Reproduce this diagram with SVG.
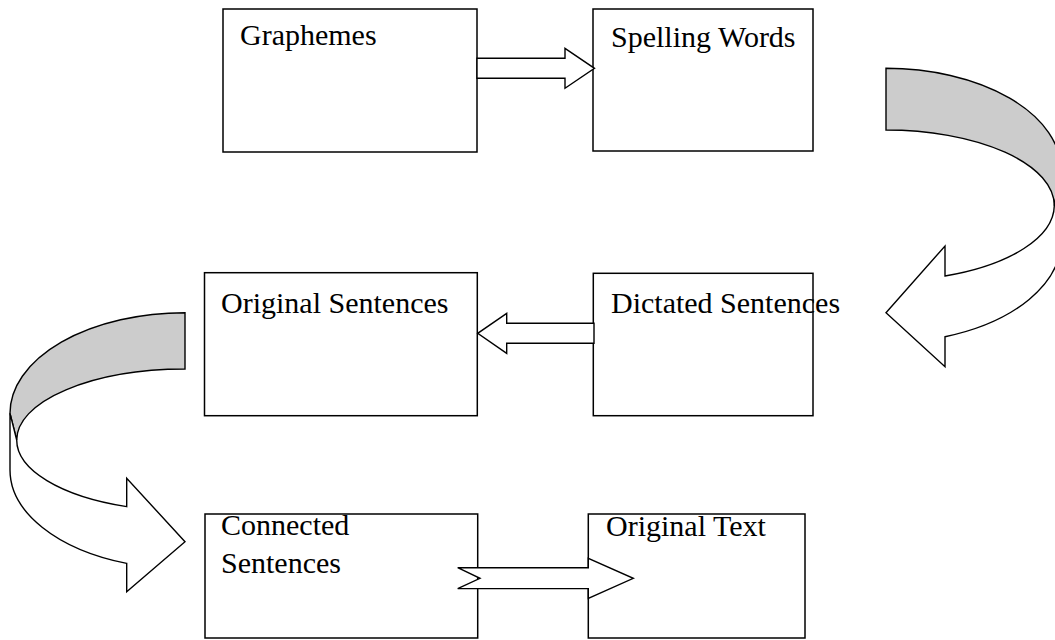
<svg xmlns="http://www.w3.org/2000/svg" width="1055" height="640" viewBox="0 0 1055 640">
<style>
.box{fill:#fff;stroke:#000;stroke-width:1.5}
.lbl{font-family:"Liberation Serif","Times New Roman",serif;font-size:30px;fill:#000}
.arr{fill:#fff;stroke:#000;stroke-width:1.4;stroke-linejoin:miter}
.back{fill:#cccccc;stroke:#000;stroke-width:1.4;stroke-linejoin:miter}
</style>
<rect width="1055" height="640" fill="#fff"/>
<g id="n-graphemes"><rect class="box" x="223" y="9" width="254" height="143"/><text class="lbl" x="240" y="45">Graphemes</text></g>
<g id="n-spelling"><rect class="box" x="593" y="9" width="220" height="142"/><text class="lbl" x="611" y="46.7">Spelling Words</text></g>
<g id="n-original-sentences"><rect class="box" x="204.5" y="272.7" width="272.8" height="143"/><text class="lbl" x="221" y="312.7">Original Sentences</text></g>
<g id="n-dictated"><rect class="box" x="593.3" y="273.3" width="219.7" height="142.4"/><text class="lbl" x="611" y="312.7">Dictated Sentences</text></g>
<g id="n-connected"><rect class="box" x="205" y="514" width="272.7" height="124"/><text class="lbl" x="221" y="535">Connected</text><text class="lbl" x="221" y="572.7">Sentences</text></g>
<g id="n-original-text"><rect class="box" x="588.3" y="514" width="216.7" height="124"/><text class="lbl" x="606" y="535.7">Original Text</text></g>
<g id="connectors">
<path class="arr" d="M477,58.3 L565,58.3 L565,48.3 L594.5,68.3 L565,88.3 L565,78.3 L477,78.3 Z"/>
<path class="arr" d="M594,323.3 L506.7,323.3 L506.7,313.3 L477.7,333.3 L506.7,353.3 L506.7,343.3 L594,343.3 Z"/>
<path class="arr" d="M457.7,567.7 L588.3,567.7 L588.3,558.3 L633.3,578.3 L588.3,598.3 L588.3,588.6 L457.7,588.6 L480,578.3 Z"/>
<path class="back" d="M886,68.3 A175.3 101.8 0 0 1 1061,170 L1054.3,205.7 A168.3 75.7 0 0 0 886,130 Z"/>
<path class="arr" d="M1054.3,205.7 A168.3 75.7 0 0 1 945,276 L945,246 L886,312.7 L945,366.7 L945,336.7 A175.3 101.8 0 0 0 1061,240.8 L1061,170 Z"/>
<path class="back" d="M185,312.7 A175 100.7 0 0 0 10,413.3 L16.7,440 A168.3 71 0 0 1 185,369 Z"/>
<path class="arr" d="M10,413.3 L10,470 A175 99 0 0 0 126.7,563.4 L126.7,591.7 L185,541.7 L126.7,478.3 L126.7,506.6 A168.3 71 0 0 1 16.7,440 Z"/>
</g>
</svg>
